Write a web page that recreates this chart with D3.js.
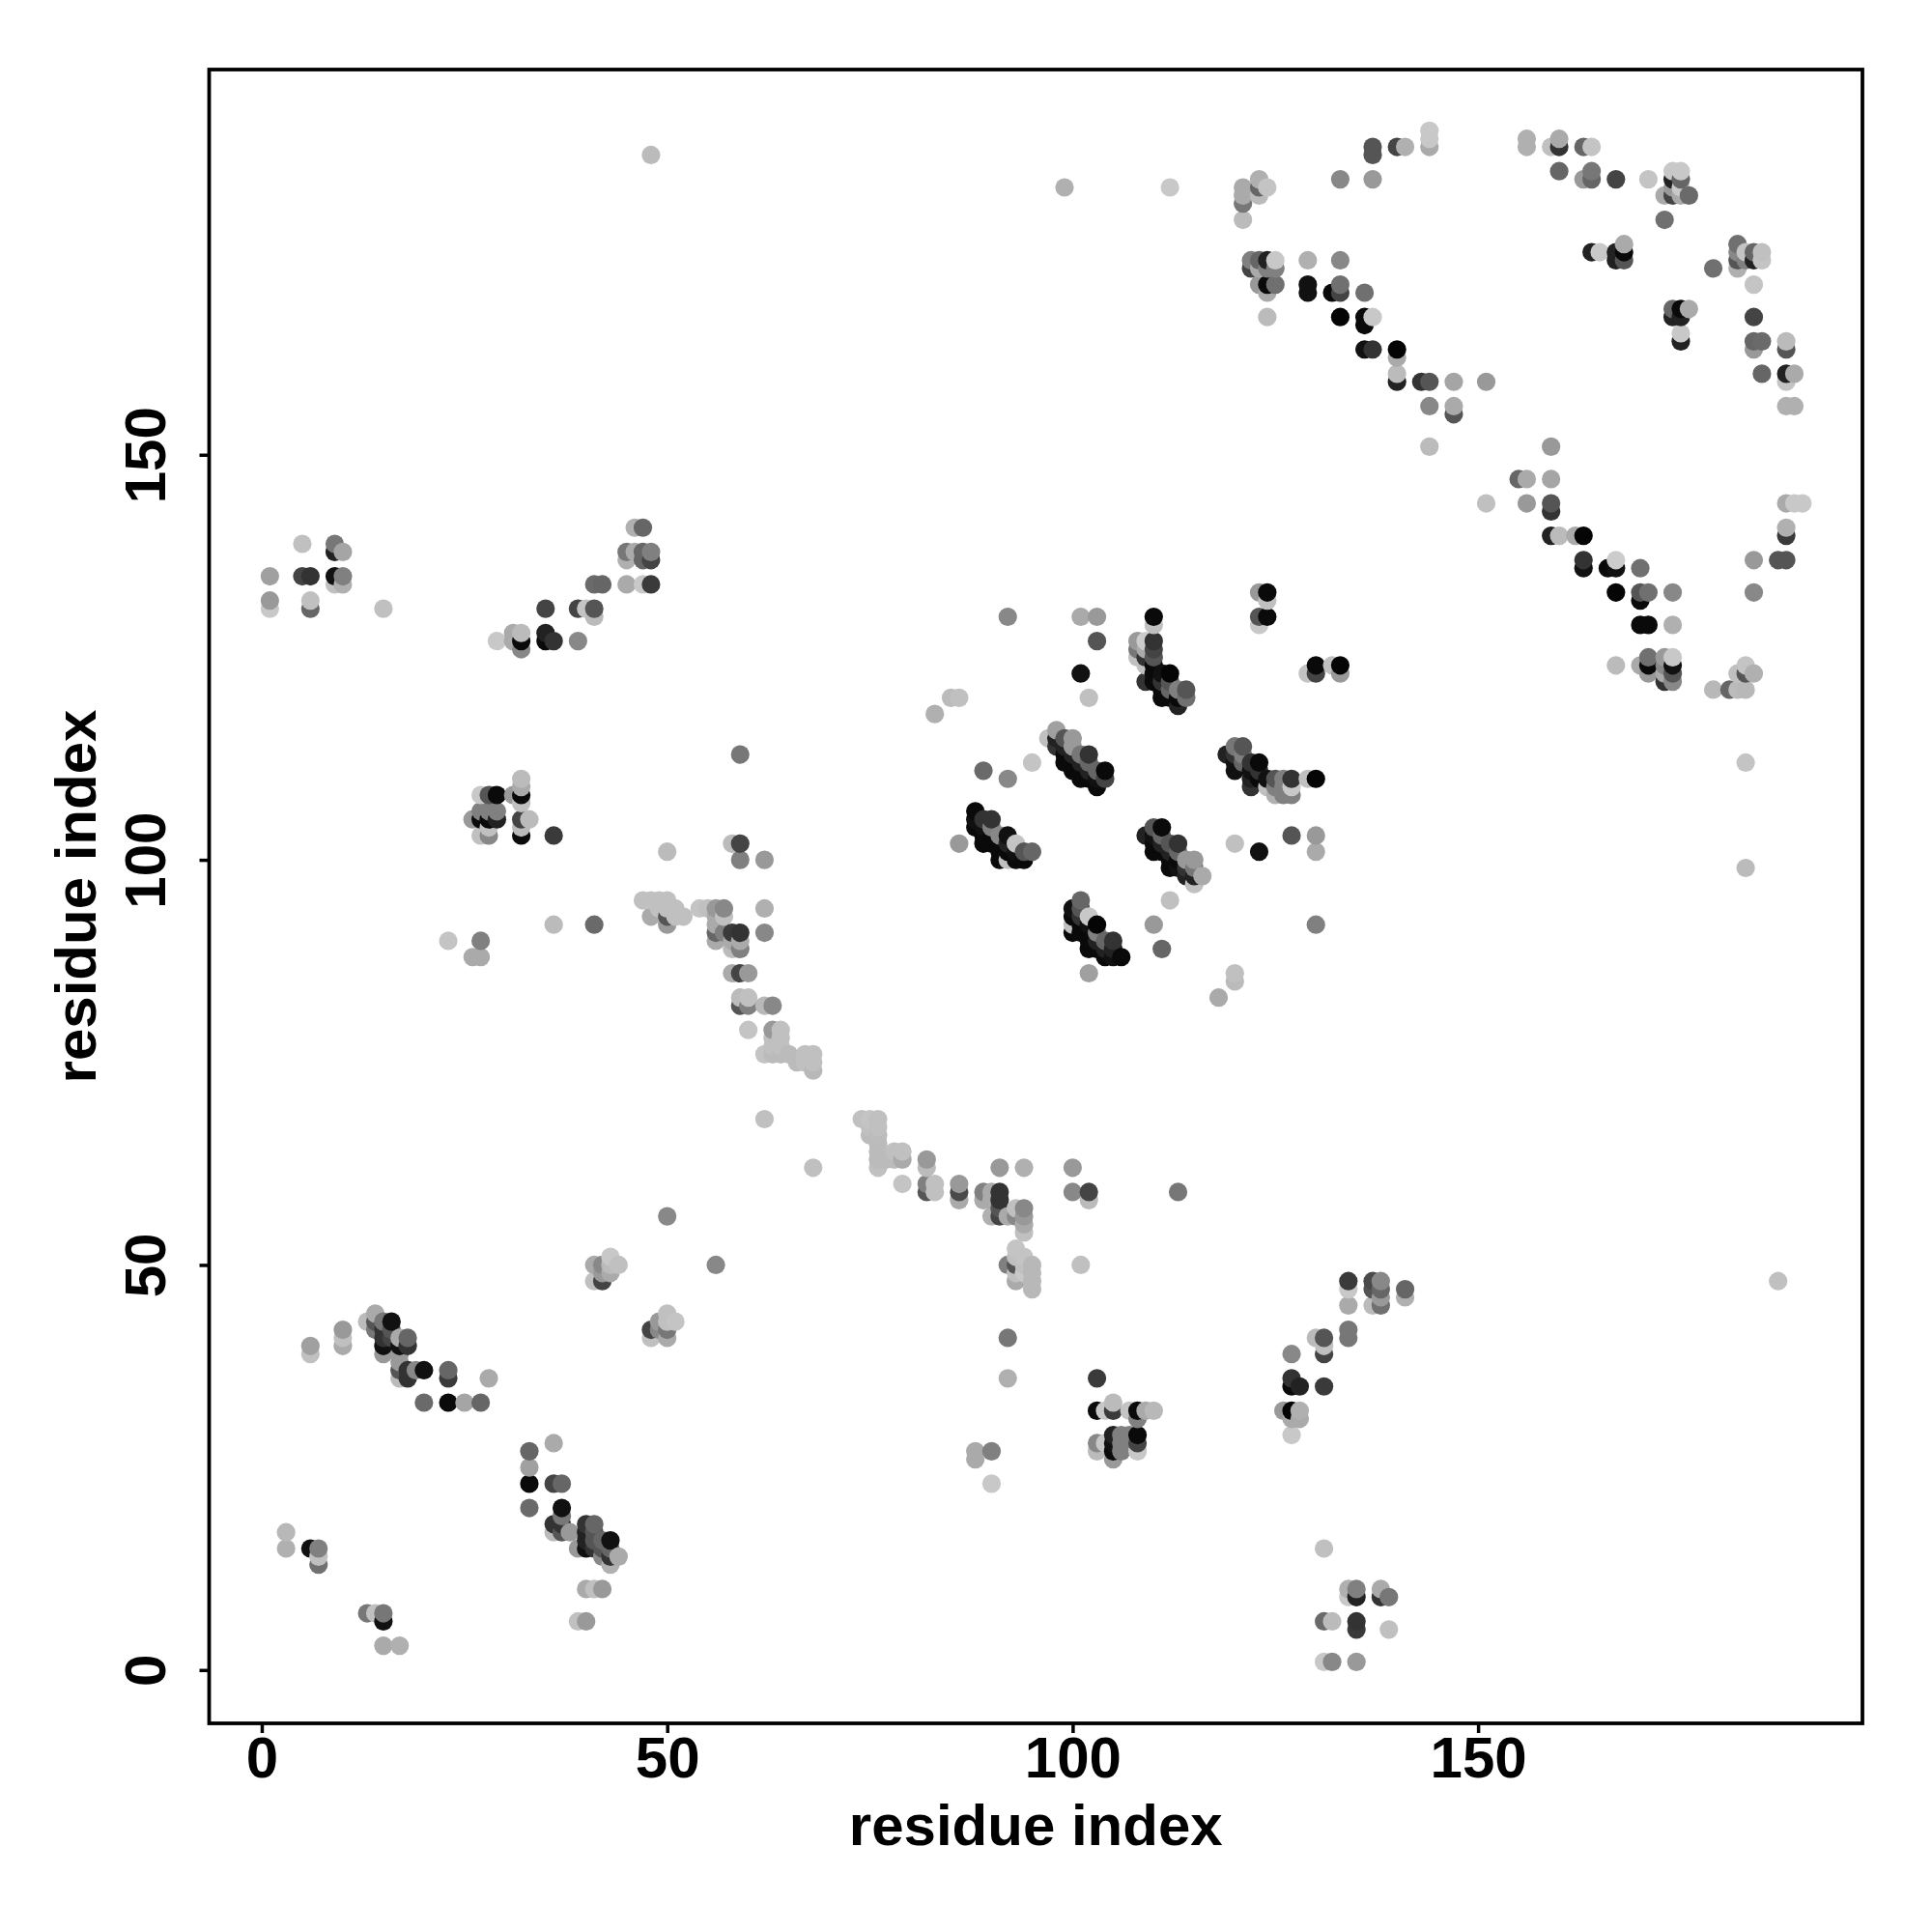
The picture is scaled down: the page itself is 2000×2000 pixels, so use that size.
<!DOCTYPE html>
<html><head><meta charset="utf-8">
<script src="https://cdn.jsdelivr.net/npm/d3@7"></script>
<style>html,body{margin:0;padding:0;background:#fff}svg{display:block}</style>
</head><body><div id="chart"></div>
<script>
// Each entry: [residue i, residue j, gray level 0-255]
const bottomLeftA=[[3,17,184],[3,15,176],[6,15,17],[7,15,128],[7,14,192],[7,13,112],[6,40,160],[6,39,192],[10,42,153],[10,41,192],[10,40,170],
[13,43,187],[14,44,170],[14,43,85],[14,42,119],[15,43,119],[16,43,17],[15,42,51],[15,41,51],[15,40,17],[15,39,153],[16,42,85],[16,41,68],[17,41,170],[18,41,102],[18,40,51],[17,40,17],[17,39,153],[17,38,153],[17,37,85],[17,36,187],[18,37,51],[18,36,51],[19,37,136],[20,37,17],
[23,37,102],[23,36,58],[28,36,170],[20,33,106],[23,33,10],[25,33,165],[27,33,102]];
const bottomLeftB=[[36,28,170],[33,27,102],[33,25,160],[33,23,10],[36,23,68],[37,23,102],[33,20,106],[37,20,17],[37,19,119],[36,18,51],[37,18,51],[38,17,153],[36,17,187],[37,17,85],
[40,18,51],[41,18,102],[40,17,34],[41,17,85],[40,16,34],[41,16,85],[42,16,102],[43,16,17],[39,15,153],[40,15,17],[41,15,51],[42,15,85],[43,15,102],[42,14,136],[43,14,51],[44,14,170],[43,13,176],
[40,10,170],[41,10,192],[42,10,153],[39,6,192],[40,6,153],[13,7,119],[14,7,192],[15,7,119],[15,6,17],[15,3,170],[17,3,176]];
const lowerMiddle=[[41,50,170],[42,50,136],[43,51,200],[43,50,187],[44,50,192],[42,49,153],[43,49,170],[41,48,192],[42,48,68],
[48,42,68],[48,41,192],[49,43,153],[49,42,136],[50,44,192],[50,43,192],[50,42,119],[50,41,170],[51,43,196],[50,56,136],[56,50,136]];
const upperLeftA=[[1,135,160],[1,132,153],[1,131,200],[5,139,192],[5,135,68],[6,135,51],[6,132,192],[6,131,102],[9,139,119],[9,138,34],[10,138,165],[9,135,17],[10,135,128],[9,134,192],[10,134,176],[15,131,192]];
const upperLeftB=[[29,127,200],[31,128,170],[31,127,170],[32,128,187],[32,127,10],[32,126,136],[35,131,68],[35,128,34],[35,127,10],[36,127,51],[39,127,136],[39,131,68],[40,131,196],[41,131,85],[41,130,187],
[41,134,106],[42,134,102],[45,134,170],[47,134,200],[48,134,58],[45,138,119],[45,137,176],[46,138,170],[47,138,102],[48,138,128],[47,137,102],[48,137,68],[46,141,176],[47,141,102],[48,187,187]];
const leftMiddle=[[32,110,187],[32,109,170],[32,108,10],[32,107,192],[31,108,153],[32,105,68],[33,105,187],[32,104,187],[32,103,10],[36,103,58],
[27,108,200],[28,108,85],[29,108,10],[27,106,128],[28,106,128],[29,106,128],[26,105,153],[27,105,10],[28,105,10],[29,105,34],[27,103,192],[28,104,192],[28,103,136],
[23,90,196],[27,90,128],[26,88,170],[27,88,170],[36,92,187],[41,92,106]];
const diagonalA=[[50,101,187],[47,95,192],[48,95,192],[49,95,192],[50,95,192],[48,93,170],[49,94,192],[50,94,192],[50,93,85],[50,92,153],[51,94,192],[51,93,192],[52,93,192],
[54,94,196],[55,94,192],[56,94,153],[57,94,136],[56,93,170],[57,93,192],[56,92,170],[56,91,102],[56,90,170],[57,91,128],[58,91,58],[59,91,51],[58,90,170],[59,90,170],[58,89,187],[59,89,128],[62,94,176],[62,91,136],
[58,102,187],[59,102,68],[59,100,128],[62,100,153],[59,113,119]];
const diagonalB=[[58,86,170],[59,86,68],[60,86,153],[59,83,187],[60,83,192],[59,82,85],[60,82,128],[62,82,184],[63,82,136],[60,79,196],[63,79,153],[64,79,192],[63,78,192],[64,78,192],[63,77,192],[64,77,192],
[62,76,196],[63,76,187],[64,76,187],[65,76,187],[66,75,187],[67,76,192],[68,76,192],[67,75,192],[68,75,192],[68,74,184],[62,68,192],[68,62,192]];
const diagonalC=[[74,68,192],[75,68,196],[76,68,192],[75,67,192],[76,67,192],[75,66,187],[76,66,187],[76,65,187],[76,64,187],[78,64,192],[79,64,192],[76,63,187],[77,63,187],[78,63,187],[79,63,170],[76,62,192],
[82,63,153],[82,62,187],[79,60,196],[82,60,128],[82,59,85],[83,60,192],[83,59,192],[86,60,153],[86,59,74],[86,58,170],[91,62,153],[94,62,176],[100,62,153],[100,59,136],[102,59,68],[102,58,187],[113,59,119]];
const diagonalD=[[89,59,128],[90,59,170],[91,59,51],[91,58,51],[89,58,170],[90,58,170],[90,56,176],[91,57,85],[91,56,68],[92,56,170],[93,57,192],[94,57,136],[93,56,136],[94,56,153],[94,55,170],[94,54,192],
[92,50,128],[93,52,196],[93,51,192],[93,50,85],[94,51,196],[93,49,192],[93,48,170],[94,50,192],[95,50,184],[95,49,184],[95,48,184],[95,47,184],[94,49,200],[101,50,192],[92,41,119],[92,36,176],[88,27,170],[88,26,170],[90,27,128],[90,23,200]];
const centerTop=[[92,130,136],[101,130,170],[103,130,153],[103,127,85],[101,123,17],[102,120,192],[110,130,10],[110,129,192],
[108,127,153],[109,127,204],[110,127,51],[108,126,119],[109,126,170],[110,126,68],[108,125,192],[109,125,51],[110,125,85],[109,124,192],[110,124,10],[109,122,51],[110,123,10],[110,122,10],[111,123,17],[112,123,5],[111,122,51],[112,122,85],[111,121,10],[112,121,102],[113,121,128],[114,121,85],[111,120,10],[112,120,10],[113,120,10],[114,120,112],[113,119,34],
[123,133,153],[124,133,10],[124,132,192],[123,130,85],[124,130,10],[123,129,200],[129,123,196],[130,124,10],[130,123,68],[132,124,192],[133,124,5],[133,123,153],[83,118,176],[85,120,187],[86,120,192],[95,112,196],[89,111,106],[92,110,136]];
const centerLeft=[[97,115,192],[98,116,160],[98,115,34],[99,115,85],[100,115,153],[98,114,51],[99,114,34],[100,114,153],[99,113,10],[100,113,34],[101,113,119],[102,113,51],[99,112,10],[100,112,10],[101,112,34],[102,112,102],[100,111,10],[101,111,10],[102,111,34],[103,111,102],[104,111,10],[101,110,10],[102,110,10],[103,110,17],[104,110,68],[103,109,10]];
const centerRight=[[119,113,34],[120,114,119],[121,114,85],[120,113,51],[121,113,128],[120,112,17],[121,112,102],[122,112,51],[123,112,10],[120,111,17],[122,111,17],[123,111,51],[122,110,34],[123,110,10],[124,110,17],[125,110,85],[126,110,128],[127,110,51],[129,110,192],[130,110,5],[122,109,51],[124,109,192],[125,109,128],[126,109,128],[127,109,200],[125,108,176],[126,108,128],[127,108,128]];
const centerLowLeft=[[88,106,10],[88,105,17],[89,105,51],[90,105,51],[88,104,10],[89,104,17],[90,104,128],[89,102,10],[89,103,10],[90,103,10],[91,103,136],[92,103,17],[86,102,153],[90,102,10],[91,102,10],[92,102,34],[93,102,196],[91,101,10],[92,101,10],[93,101,17],[94,101,85],[95,101,102],[91,100,10],[92,100,192],[93,100,10],[94,100,10]];
const centerLowRight=[[109,103,34],[110,104,85],[111,104,10],[110,103,17],[111,103,102],[110,102,10],[111,102,34],[112,102,85],[113,102,51],[110,101,10],[111,101,10],[112,101,34],[113,101,102],[114,100,153],[115,100,153],[112,100,10],[113,100,10],[112,99,10],[113,99,17],[114,99,51],[115,99,119],[114,98,34],[115,98,34],[116,98,170],[115,97,192],
[112,95,192],[110,92,153],[111,89,102],[120,102,192],[123,101,17],[127,103,85],[130,103,153],[130,101,170],[130,92,128],[120,86,192],[120,85,187],[118,83,170]];
const centerBottom=[[102,86,160],[101,95,102],[100,94,17],[101,94,85],[102,93,200],[100,93,10],[101,93,51],[100,92,192],[100,91,10],[101,92,10],[102,92,17],[103,92,5],[101,91,10],[102,91,10],[103,91,128],[104,90,102],[105,90,51],[102,90,10],[103,90,34],[102,89,10],[103,89,10],[104,89,34],[105,89,34],[104,88,10],[105,88,17],[106,88,10]];
const topRingA=[[99,183,176],[112,183,200],[121,183,170],[121,182,170],[121,181,119],[121,179,187],[123,184,176],[123,183,102],[123,182,187],[124,183,196],[133,184,136],[137,184,153],[137,188,85],[137,187,85],[140,188,68],[141,188,176],[144,190,200],[144,189,200],[144,188,170],
[156,189,176],[156,188,176],[159,188,192],[160,189,170],[160,188,51],[163,188,102],[164,188,196],[160,185,102],[163,184,153],[164,185,119],[164,184,102],[167,184,68],[171,184,196]];
const topRingB=[[122,174,128],[123,174,102],[124,174,34],[125,174,200],[122,173,68],[123,173,170],[124,173,128],[125,173,128],[123,171,153],[124,171,10],[125,171,112],[124,170,170],[124,167,187],
[129,174,176],[133,174,136],[129,171,17],[129,170,17],[132,170,10],[133,171,112],[133,170,68],[136,170,112],[133,167,5],[136,167,10],[136,166,10],[137,167,200],[136,163,17],[137,163,51],[140,163,5],[140,162,170],[140,160,187],[140,159,34],[143,159,51],[144,159,85],[147,159,165],[151,159,153],[144,156,136],[147,156,170],[147,155,85],[144,151,187]];
const topRingC=[[174,185,200],[175,185,200],[174,184,34],[175,184,102],[174,183,153],[175,183,200],[173,182,170],[174,182,68],[175,182,170],[176,182,106],[173,179,112],
[164,175,34],[165,175,200],[167,175,34],[168,176,170],[168,175,10],[167,174,34],[168,174,85],[179,173,112],[182,176,112],[182,175,136],[182,174,85],[182,173,176],[183,175,196],[183,174,128],[184,175,102],[184,174,34],[185,175,192],[185,174,196],[184,171,196],
[174,168,102],[175,168,10],[176,168,170],[174,167,34],[175,167,34],[175,165,200],[175,164,34],[184,167,68],[184,164,102],[185,164,106],[184,163,153],[188,164,187],[188,163,85],[185,160,102],[188,160,34],[189,160,170],[188,159,196],[188,156,176],[189,156,176]];
const rightBandA=[[159,151,153],[155,147,102],[156,147,170],[159,147,165],[151,144,192],[156,144,153],[159,144,85],[159,143,51],[159,140,34],[160,140,187],[162,140,170],[163,140,5],[163,137,51],[163,136,17],[166,136,10],[167,137,204],[167,136,17],[170,136,112],[167,133,5],[170,133,85],[170,132,10],[171,133,112],[174,133,136],[170,129,10],[171,129,10],[174,129,176]];
const rightBandB=[[167,124,187],[170,124,170],[171,125,112],[171,124,10],[171,123,153],[173,125,153],[174,125,200],[173,124,136],[174,124,17],[173,123,170],[174,123,85],[173,122,51],[174,122,136],
[179,121,184],[181,121,102],[182,121,187],[183,121,184],[183,124,196],[182,123,192],[183,123,85],[184,123,176],[183,112,196],[183,99,187],[184,137,153],[187,137,85],[188,137,85],[184,133,136],[188,141,176],[188,140,58],[188,144,170],[189,144,200],[190,144,200],[187,48,192]];
const lowerRightA=[[103,36,58],[103,32,10],[104,32,200],[105,33,187],[105,32,58],[107,32,196],[108,32,10],[109,32,170],[110,32,184],[108,31,128],[103,28,136],[103,27,187],[104,28,200],[105,29,34],[105,28,17],[105,27,10],[105,26,153],[106,29,128],[106,28,128],[106,27,128],[107,29,128],[107,28,128],[108,29,10],[108,28,68],[108,27,200]];
const lowerRightB=[[127,39,136],[127,36,51],[127,35,10],[128,35,34],[131,35,58],[130,41,187],[131,41,85],[131,40,192],[131,39,68],[134,42,119],[134,41,119],[126,32,153],[127,32,5],[128,32,176],[127,31,170],[128,31,170],[127,29,200],
[134,48,58],[134,47,200],[134,45,170],[137,48,74],[138,48,136],[137,47,85],[138,47,102],[138,46,153],[137,45,187],[138,45,112],[141,47,102],[141,46,176]];
const lowerRightC=[[131,15,192],[134,10,176],[135,10,128],[134,9,200],[135,9,34],[138,10,170],[138,9,51],[139,9,119],[131,6,106],[132,6,187],[135,6,51],[135,5,58],[139,5,192],[131,1,200],[132,1,136],[135,1,153]];
const xTickValues=[0,50,100,150];
const yTickValues=[0,50,100,150];
const axisTitle="residue index";

const contacts=[bottomLeftA,bottomLeftB,lowerMiddle,upperLeftA,upperLeftB,leftMiddle,diagonalA,diagonalB,diagonalC,diagonalD,centerTop,centerLeft,centerRight,centerLowLeft,centerLowRight,centerBottom,topRingA,topRingB,topRingC,rightBandA,rightBandB,lowerRightA,lowerRightB,lowerRightC]
  .flat().sort((a,b)=>d3.ascending(a[0],b[0])||d3.ascending(a[1],b[1]));

const font='"Liberation Sans",Arial,Helvetica,sans-serif';
const box={left:216.5,right:1928,top:72,bottom:1784};
const x=d3.scaleLinear().domain([-6.43,197.4]).range([217,1928]);
const y=d3.scaleLinear().domain([-6.56,197.45]).range([1783.8,72.8]);

const svg=d3.select("#chart").append("svg").attr("width",2000).attr("height",2000);
svg.append("rect").attr("width",2000).attr("height",2000).attr("fill","#fff");

svg.append("g").selectAll("circle").data(contacts).join("circle")
  .attr("cx",d=>x(d[0])).attr("cy",d=>y(d[1])).attr("r",9.6)
  .attr("fill",d=>d3.rgb(d[2],d[2],d[2]).formatHex());

const gx=svg.append("g").attr("transform",`translate(0,${box.bottom})`)
  .call(d3.axisBottom(x).tickValues(xTickValues).tickSize(10).tickPadding(13).tickFormat(d3.format("d")));
const gy=svg.append("g").attr("transform",`translate(${box.left},0)`)
  .call(d3.axisLeft(y).tickValues(yTickValues).tickSize(10).tickPadding(0).tickFormat(d3.format("d")));
[gx,gy].forEach(g=>{
  g.select(".domain").remove();
  g.selectAll(".tick line").attr("stroke","#000").attr("stroke-width",3.5);
  g.selectAll("text").attr("fill","#000").attr("font-family",font).attr("font-weight","bold").attr("font-size",60);
});
gx.selectAll("text").attr("y",null).attr("dy",null).attr("transform",null).attr("y",56).attr("text-anchor","middle");
gy.selectAll("text").attr("x",null).attr("dy",null).attr("text-anchor","middle")
  .attr("transform","translate(-45.5,0) rotate(-90)");

svg.append("rect").attr("x",box.left).attr("y",box.top).attr("width",box.right-box.left).attr("height",box.bottom-box.top)
  .attr("fill","none").attr("stroke","#000").attr("stroke-width",3.8);

svg.append("text").attr("x",(box.left+box.right)/2).attr("y",1910).attr("text-anchor","middle")
  .attr("font-family",font).attr("font-weight","bold").attr("font-size",60).attr("fill","#000").text(axisTitle);
svg.append("text").attr("transform",`translate(99,${(box.top+box.bottom)/2}) rotate(-90)`).attr("text-anchor","middle")
  .attr("font-family",font).attr("font-weight","bold").attr("font-size",60).attr("fill","#000").text(axisTitle);
</script></body></html>
